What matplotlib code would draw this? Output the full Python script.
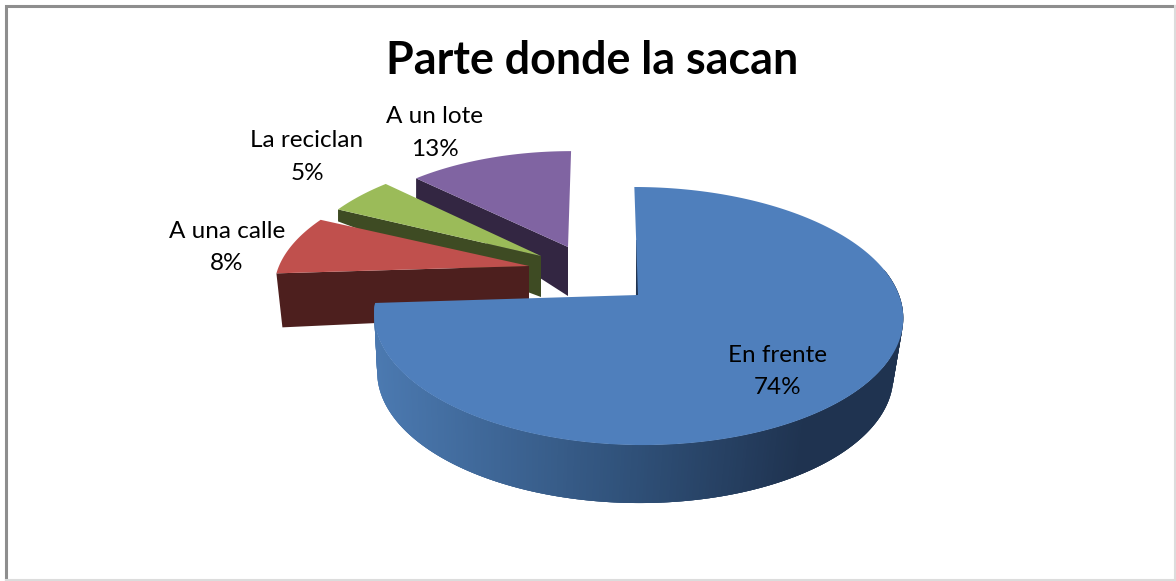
import numpy as np
import matplotlib
matplotlib.use('Agg')
import matplotlib.pyplot as plt
from matplotlib.colors import to_rgb

categories = ['En frente', 'A una calle', 'La reciclan', 'A un lote']
values = [74, 8, 5, 13]
title = 'Parte donde la sacan'

top_colors = ['#4f7fbc', '#c0504d', '#9bbb59', '#8064a2']
side_colors = ['#1f3350', '#4d1f1e', '#3e4b23', '#332642']
# apex of each exploded slice, radii and side depth (rim, apex), in pixels
apex = [(638, 295), (529, 266), (541, 256), (568, 247)]
radius_x = [261, 250, 243, 235]
radius_y = [125.6, 116, 117, 111.5]
depth_rim = [58, 54, 12, 20]
depth_apex = [58, 50, 41, 49]
label_pos = [(778, 371.5), (227, 247.5), (307, 157), (435, 133)]

PERSP = 0.163
VANISH_X = 600
SHIFT = 0.13

plt.rcParams['font.family'] = ['Lato', 'DejaVu Sans']

fig = plt.figure(figsize=(11.76, 5.81), dpi=100)
ax = fig.add_axes([0, 0, 1, 1])
ax.set_xlim(0, 1176)
ax.set_ylim(581, 0)
ax.axis('off')


def rim(i, theta):
    u = np.sin(theta)
    v = np.cos(theta)
    w = 1 / (1 + PERSP * v)
    x = apex[i][0] + (radius_x[i] * u + SHIFT * (VANISH_X - apex[i][0]) * v / 1.16) * w
    y = apex[i][1] - radius_y[i] * v * w
    return x, y


def rim_bottom(i, theta):
    x, y = rim(i, theta)
    # side shrinks a little towards the left of the chart
    return x + (498 - x) * 0.0246, y + depth_rim[i]


shares = np.array(values) / sum(values) * 2 * np.pi
starts = np.concatenate(([0], np.cumsum(shares)[:-1]))

# back slices first, big blue one last
for i in [3, 2, 1, 0]:
    t0 = starts[i]
    t1 = t0 + shares[i]
    z = 10 - i
    if i == 0:
        # curved side with the light-to-dark shading, strips overlap to hide seams
        th = np.linspace(np.radians(78), t1, 300)
        light = np.array(to_rgb('#4b79b0'))
        mid = np.array(to_rgb('#2f5078'))
        dark = np.array(to_rgb(side_colors[0]))
        for a, b in zip(th[:-3], th[3:]):
            xa, ya = rim(i, a)
            xb, yb = rim(i, b)
            xc, yc = rim_bottom(i, b)
            xd, yd = rim_bottom(i, a)
            s = (xa - 378) / 260
            if s < 1:
                col = light + (mid - light) * max(s, 0)
            else:
                col = mid + (dark - mid) * min((s - 1) / 0.65, 1)
            ax.fill([xa, xb, xc, xd], [ya, yb, yc, yd], color=col, lw=0, zorder=z)
        xe, ye = rim(i, 0)
        ax.plot([(xe + apex[i][0]) / 2 + 1, apex[i][0] - 1], [(ye + apex[i][1]) / 2, apex[i][1]],
                color=side_colors[0], lw=1.5, zorder=z)
    else:
        # radial side facing the viewer
        xe, ye = rim(i, t0)
        ax.fill([xe, apex[i][0], apex[i][0], xe + 6 * (i == 1)],
                [ye, apex[i][1], apex[i][1] + depth_apex[i], ye + depth_rim[i]],
                color=side_colors[i], lw=0, zorder=z)
    th = np.linspace(t0, t1, 200)
    xs, ys = rim(i, th)
    ax.fill(np.r_[apex[i][0], xs], np.r_[apex[i][1], ys], color=top_colors[i], lw=0, zorder=z + 0.5)

for cat, val, (lx, ly) in zip(categories, values, label_pos):
    ax.text(lx, ly, f'{cat}\n{val}%', ha='center', va='center', fontsize=17.5,
            linespacing=1.7, color='black', zorder=20)

ax.text(592, 61, title, ha='center', va='center', fontsize=32.3, fontweight='bold', color='black')

# chart frame
ax.plot([6, 6, 1174], [581, 6, 6], color='#8e8e8e', lw=2.2, solid_joinstyle='miter')
ax.plot([1175, 1175, 6], [6, 580, 580], color='#dcdcdc', lw=1.5, solid_joinstyle='miter')

fig.savefig('out.png', dpi=100)
